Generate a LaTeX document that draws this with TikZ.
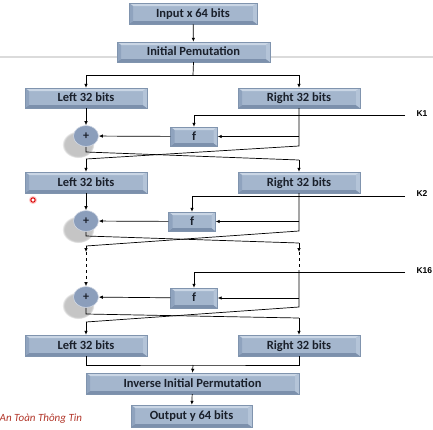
\documentclass[tikz,border=0pt]{standalone}
\usepackage{fontspec}
\setmainfont{Carlito}
\newfontfamily\keyfont{Liberation Sans}
\usetikzlibrary{arrows.meta,shapes.geometric,shadows}
\definecolor{boxface}{HTML}{A4B6CD}
\definecolor{boxtop}{HTML}{CAD6E5}
\definecolor{boxbot}{HTML}{7C90AC}
\definecolor{boxleft}{HTML}{8FA3BE}
\definecolor{boxright}{HTML}{B4C4D8}
\definecolor{boxedge}{HTML}{8094AE}
\definecolor{boxtext}{HTML}{1A202B}
\definecolor{xorfill}{HTML}{8B9EBB}
\definecolor{slidered}{HTML}{B2362A}
\begin{document}
\begin{tikzpicture}[x=1pt,y=-1pt]
		\tikzstyle{bitbox}=[draw=boxedge,line width=0.4pt,fill=boxface,inner sep=0pt,
			minimum height=20pt,text=boxtext,font=\fontsize{12.5}{14}\selectfont\bfseries,
			text height=8.6pt,text depth=1.6pt,
			drop shadow={opacity=0.2,shadow xshift=0.8pt,shadow yshift=-1.2pt},
			path picture={
				\fill[boxtop] (path picture bounding box.north west) -- (path picture bounding box.north east)
				-- ([shift={(-4pt,-3pt)}]path picture bounding box.north east) -- ([shift={(4pt,-3pt)}]path picture bounding box.north west) -- cycle;
				\fill[boxbot] (path picture bounding box.south west) -- (path picture bounding box.south east)
				-- ([shift={(-4pt,3pt)}]path picture bounding box.south east) -- ([shift={(4pt,3pt)}]path picture bounding box.south west) -- cycle;
				\fill[boxleft] (path picture bounding box.north west) -- ([shift={(4pt,-3pt)}]path picture bounding box.north west)
				-- ([shift={(4pt,3pt)}]path picture bounding box.south west) -- (path picture bounding box.south west) -- cycle;
				\fill[boxright] (path picture bounding box.north east) -- ([shift={(-4pt,-3pt)}]path picture bounding box.north east)
				-- ([shift={(-4pt,3pt)}]path picture bounding box.south east) -- (path picture bounding box.south east) -- cycle;
			}]
		\tikzstyle{halfbox}=[bitbox,minimum width=122pt]
		\tikzstyle{fbox}=[bitbox,minimum width=47pt,minimum height=19pt]
		\tikzstyle{xor}=[ellipse,draw=white!60!xorfill,line width=0.6pt,fill=xorfill,inner sep=0pt,
			minimum width=25pt,minimum height=21pt,text=boxtext,font=\fontsize{12}{14}\selectfont\bfseries,
			circular drop shadow={shadow xshift=-6pt,shadow yshift=-6.5pt,shadow scale=1.3,opacity=0.45}]
		\tikzstyle{arr}=[-{Latex[length=4pt,width=3.5pt]}]
		\tikzstyle{wire}=[line width=0.7pt,black]
		\tikzstyle{keylabel}=[font=\keyfont\fontsize{8.5}{9}\selectfont\bfseries,anchor=west]

		\fill[white] (0,0) rectangle (433,429);
		\useasboundingbox (0,0) rectangle (433,429);
		\draw[line width=1.6pt,black!14] (0,57) -- (433,57);

		% boxes
		\node[bitbox,minimum width=128pt,minimum height=21pt] (input) at (193,13.5) {Input x 64 bits};
		\node[bitbox,minimum width=153pt] (ip) at (193.5,52) {Initial Pemutation};
		\node[halfbox] (left1) at (86,98) {Left 32 bits};
		\node[halfbox] (right1) at (299,98) {Right 32 bits};
		\node[xor] (xor1) at (86,136) {+};
		\node[fbox] (f1) at (194,136.5) {f};
		\node[halfbox,minimum height=21pt] (left2) at (86,182.5) {Left 32 bits};
		\node[halfbox,minimum height=21pt] (right2) at (299,182.5) {Right 32 bits};
		\node[xor] (xor2) at (86,221) {+};
		\node[fbox] (f2) at (192,221.5) {f};
		\node[xor] (xor3) at (86,297) {+};
		\node[fbox,minimum height=20pt] (f3) at (194,298) {f};
		\node[halfbox,minimum height=21pt] (left3) at (86,345.5) {Left 32 bits};
		\node[halfbox,minimum height=21pt] (right3) at (299,345.5) {Right 32 bits};
		\node[bitbox,minimum width=213pt,minimum height=21pt] (iip) at (192.5,383.5) {Inverse Initial Permutation};
		\node[bitbox,minimum width=121pt,minimum height=22pt] (output) at (191.5,416) {Output y 64 bits};

		% keys
		\coordinate (k1) at (405,115);
		\coordinate (k2) at (405,196);
		\coordinate (k16) at (405,272);
		\node[keylabel] (k1l) at (413,114) {K1};
		\node[keylabel] (k2l) at (413,194) {K2};
		\node[keylabel] (k16l) at (413,271) {K16};

		% bend points
		\coordinate (s0) at (193,75);
		\coordinate (r1) at (299,146);
		\coordinate (a1) at (86,152);
		\coordinate (b1) at (299,160);
		\coordinate (c1) at (86,159);
		\coordinate (r2) at (299,231);
		\coordinate (a2) at (86,236);
		\coordinate (b2) at (299,243);
		\coordinate (c2) at (86,246);
		\coordinate (d2l) at (86,252);
		\coordinate (d2r) at (299,252);
		\coordinate (e2r) at (299,270);
		\coordinate (r3) at (299,307);
		\coordinate (a3) at (86,314);
		\coordinate (b3) at (299,318);
		\coordinate (c3) at (86,322);
		\coordinate (s4) at (193,365);

		\begin{scope}[wire]
			\draw[arr] (input) -- (ip);
			\draw (ip.south) -- (s0);
			\draw[arr] (s0) -| (left1.north);
			\draw[arr] (s0) -| (right1.north);

			% round 1
			\draw[arr] (left1) -- (xor1);
			\draw[arr] (k1) -| (f1.north);
			\draw (right1.south) -- (r1) -- (c1);
			\draw[arr] (c1) -- (left2.north);
			\draw[arr] (right1.south |- f1) -- (f1.east);
			\draw[arr] (f1) -- (xor1);
			\draw (xor1.south) -- (a1) -- (b1);
			\draw[arr] (b1) -- (right2.north);

			% round 2
			\draw[arr] (left2) -- (xor2);
			\draw[arr] (k2) -| (f2.north);
			\draw (right2.south) -- (r2) -- (c2);
			\draw[arr] (right2.south |- f2) -- (f2.east);
			\draw[arr] (f2) -- (xor2);
			\draw (xor2.south) -- (a2) -- (b2);
			\draw[arr] (c2) -- (d2l);
			\draw[arr] (b2) -- (d2r);
			\draw[arr,dashed] (d2l) -- (xor3.north);
			\draw[dashed] (d2r) -- (e2r);

			% round 16
			\draw[arr] (k16) -| (f3.north);
			\draw (e2r) -- (r3) -- (c3);
			\draw[arr] (e2r |- f3) -- (f3.east);
			\draw[arr] (f3) -- (xor3);
			\draw[arr] (c3) -- (left3.north);
			\draw (xor3.south) -- (a3) -- (b3);
			\draw[arr] (b3) -- (right3.north);

			\draw (left3.south) |- (s4) -| (right3.south);
			\draw[arr] (s4) -- (iip.north);
			\draw[arr] (iip) -- (output);
		\end{scope}

		\node[anchor=west,inner sep=0pt,text=slidered,font=\fontsize{11}{12}\selectfont\itshape] (footer) at (-0.5,419) {An Toàn Thông Tin};
		\draw[red!20,line width=1.6pt] (33,200) circle (3.2pt);
		\draw[red!85!black,line width=1pt] (33,200) circle (2.2pt);
	\end{tikzpicture}
\end{document}
